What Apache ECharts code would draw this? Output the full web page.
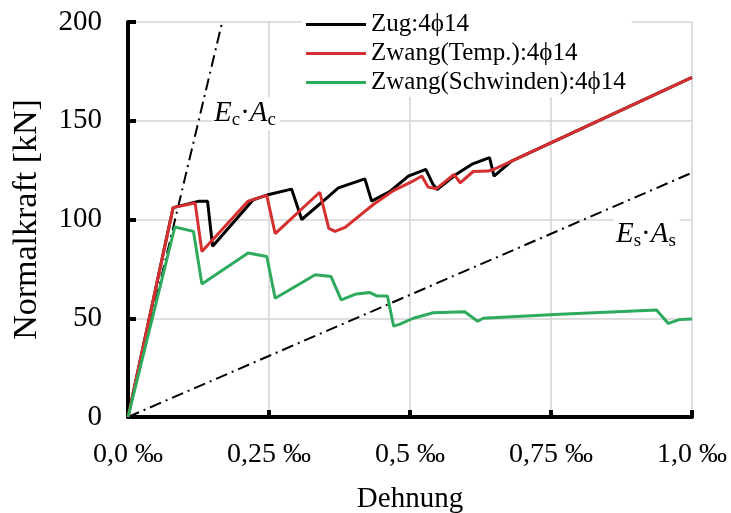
<!DOCTYPE html>
<html>
<head>
<meta charset="utf-8">
<script src="https://cdn.jsdelivr.net/npm/echarts@6/dist/echarts.min.js"></script>
<style>
  html, body { margin: 0; padding: 0; background: #fff; }
  #chart { width: 731px; height: 513px; }
</style>
</head>
<body>
<div id="chart"></div>
<script>
// strain [‰], force [kN]
const zug = [
  [0, 0], [0.080, 106], [0.126, 109.3], [0.141, 109.3], [0.150, 86.4], [0.222, 110],
  [0.250, 112.7], [0.290, 115.4], [0.308, 100], [0.346, 109.3], [0.373, 116],
  [0.420, 120.6], [0.432, 109.3], [0.465, 114.3], [0.497, 122], [0.528, 125.4],
  [0.541, 117.7], [0.548, 115.2], [0.582, 122.9], [0.610, 128], [0.641, 131.3],
  [0.649, 122], [0.680, 129.6], [1.0, 172]
]
const temp = [
  [0, 0], [0.080, 106], [0.119, 108.4], [0.131, 83.8], [0.213, 109.3], [0.246, 112.2],
  [0.261, 92.8], [0.340, 113.8], [0.356, 95.5], [0.367, 94], [0.385, 96],
  [0.435, 107.6], [0.470, 114.5], [0.505, 119.4], [0.521, 122], [0.532, 116.4],
  [0.547, 115.6], [0.578, 122.8], [0.589, 118.6], [0.612, 124.3], [0.639, 124.5],
  [0.651, 125.7], [0.680, 129.6], [1.0, 172]
]
const schwinden = [
  [0, 0], [0.083, 96.2], [0.116, 94], [0.131, 67.4], [0.213, 83], [0.246, 81.3],
  [0.261, 60.1], [0.332, 72], [0.360, 71.1], [0.378, 59.3], [0.405, 62.3],
  [0.429, 63], [0.441, 61.3], [0.460, 61.3], [0.471, 46], [0.482, 47], [0.506, 50],
  [0.541, 52.8], [0.597, 53.3], [0.620, 48.5], [0.630, 50], [0.766, 52],
  [0.937, 54.2], [0.958, 47.4], [0.979, 49.4], [1.0, 49.6]
]
// reference stiffness lines
const ecAc = [[0, 0], [0.167, 200]]
const esAs = [[0, 0], [1.0, 123.7]]

const xTicks = { 0: '0,0 ‰', 0.25: '0,25 ‰', 0.5: '0,5 ‰', 0.75: '0,75 ‰', 1: '1,0 ‰' }
const names = ['Zug:4ϕ14', 'Zwang(Temp.):4ϕ14', 'Zwang(Schwinden):4ϕ14']

const font = '"Liberation Serif", serif'
const dashDot = [12, 5, 2, 5]

const chart = echarts.init(document.getElementById('chart'))

const refLine = (data) => ({
  type: 'line',
  data: data,
  symbol: 'none',
  silent: true,
  z: 1,
  lineStyle: { color: '#000', width: 2, type: dashDot }
})

const subLabel = (sub, left, top) => ({
  type: 'text', left: left, top: top, z: 10,
  style: {
    text: '{i|E}{s|' + sub + '}{n|·}{i|A}{s|' + sub + '}',
    backgroundColor: '#fff',
    padding: [0, 4, 0, 2],
    rich: {
      i: { fontFamily: font, fontStyle: 'italic', fontSize: 29, fill: '#000' },
      s: { fontFamily: font, fontSize: 19, fill: '#000', padding: [14, 0, 0, 0] },
      n: { fontFamily: font, fontSize: 29, fill: '#000' }
    }
  }
})

chart.setOption({
  animation: false,
  textStyle: { fontFamily: font },
  grid: { left: 128, right: 39, top: 22, bottom: 96, outerBoundsMode: 'none' },
  legend: {
    data: names,
    orient: 'vertical',
    left: 302,
    top: 10,
    icon: 'rect',
    itemWidth: 60,
    itemHeight: 3,
    itemGap: 4,
    padding: [2, 6, 2, 4],
    backgroundColor: '#fff',
    textStyle: { fontFamily: font, fontSize: 25, color: '#000', lineHeight: 24, padding: [0, 0, 0, 0] }
  },
  xAxis: {
    type: 'value',
    min: 0,
    max: 1,
    interval: 0.25,
    name: 'Dehnung',
    nameLocation: 'middle',
    nameGap: 68,
    nameTextStyle: { fontFamily: font, fontSize: 29, color: '#000' },
    axisLine: { lineStyle: { color: '#000', width: 4 } },
    axisTick: { inside: true, length: 7, lineStyle: { color: '#000', width: 4 } },
    axisLabel: { margin: 24, fontFamily: font, fontSize: 28, color: '#000', formatter: v => xTicks[v] },
    splitLine: { show: true, lineStyle: { color: '#d3d3d3', width: 1.5 } }
  },
  yAxis: {
    type: 'value',
    min: 0,
    max: 200,
    interval: 50,
    name: 'Normalkraft [kN]',
    nameLocation: 'middle',
    nameGap: 84,
    nameTextStyle: { fontFamily: font, fontSize: 34, color: '#000' },
    axisLine: { show: true, lineStyle: { color: '#000', width: 4 } },
    axisTick: { show: true, inside: true, length: 8, lineStyle: { color: '#000', width: 4 } },
    axisLabel: { margin: 26, fontFamily: font, fontSize: 29, color: '#000' },
    splitLine: { show: true, lineStyle: { color: '#d3d3d3', width: 1.5 } }
  },
  series: [
    refLine(ecAc),
    refLine(esAs),
    {
      name: names[0], type: 'line', data: zug, symbol: 'none', z: 3,
      lineStyle: { color: '#000', width: 3 }, itemStyle: { color: '#000' }
    },
    {
      name: names[1], type: 'line', data: temp, symbol: 'none', z: 4,
      lineStyle: { color: '#d62f2f', width: 3 }, itemStyle: { color: '#d62f2f' }
    },
    {
      name: names[2], type: 'line', data: schwinden, symbol: 'none', z: 4,
      lineStyle: { color: '#2daa5c', width: 3 }, itemStyle: { color: '#2daa5c' }
    }
  ],
  graphic: [
    subLabel('c', 212, 97),
    subLabel('s', 614, 218)
  ]
})
</script>
</body>
</html>
